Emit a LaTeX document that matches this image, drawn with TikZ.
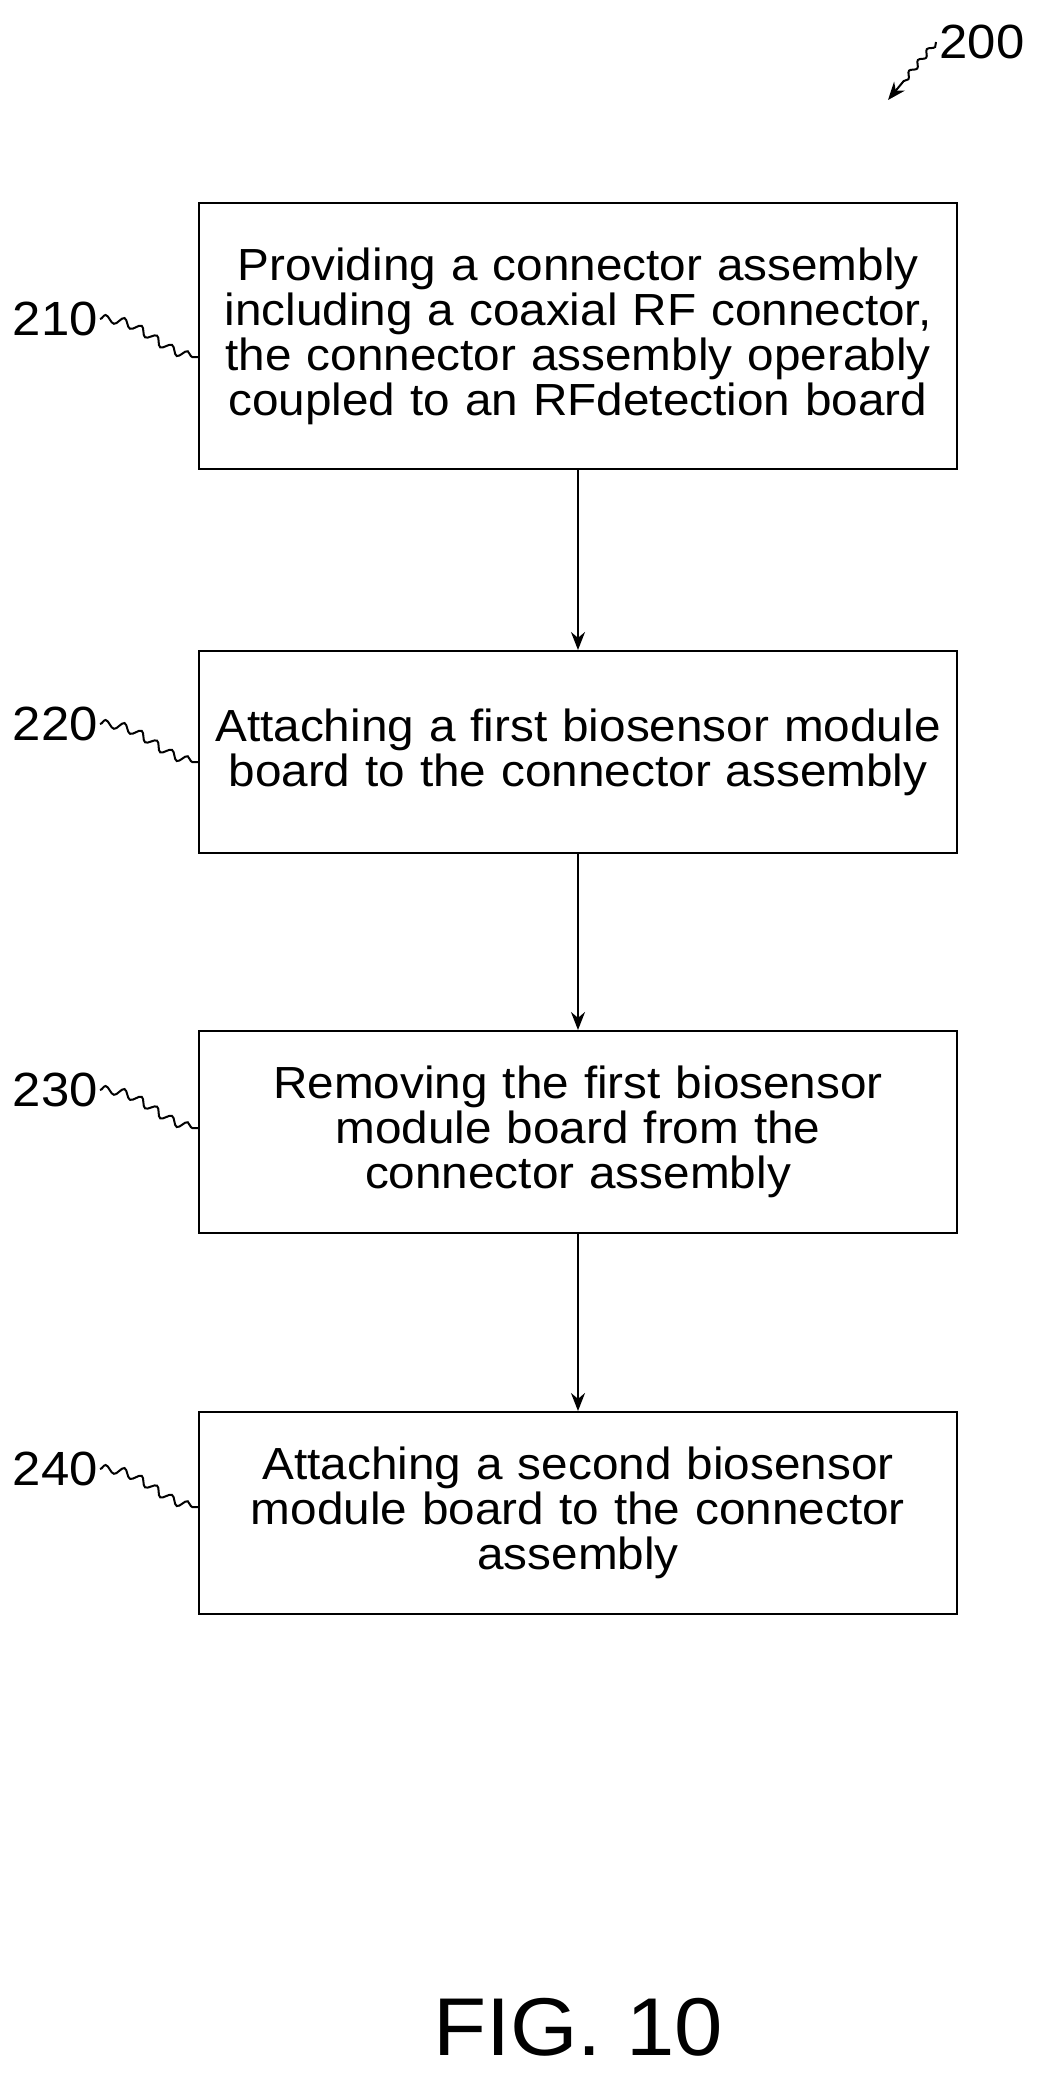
\documentclass[tikz,border=0pt]{standalone}
\usepackage{fontspec}
\setmainfont{Liberation Sans}[FakeStretch=1.06]
\usetikzlibrary{positioning, arrows.meta, decorations.pathmorphing}
\tikzset{
    StepBox/.style={draw, line width=2pt, minimum width=758pt, minimum height=202pt, text width=746pt, align=center, inner sep=6pt, font=\fontsize{45}{45}\selectfont},
    RefText/.style={font=\fontsize{48}{50}\selectfont},
    FlowArrow/.style={-{Stealth[length=18pt, width=14pt]}, line width=2pt},
    Squiggle/.style={line width=2pt, decorate, decoration={snake, amplitude=4pt, segment length=18pt}}
}
\begin{document}
\begin{tikzpicture}[x=1pt, y=-1pt]
    \useasboundingbox (0,0) rectangle (1050,2082);

    \node[StepBox, minimum height=266pt] (s210) at (578,336) {Providing a connector assembly\\including a coaxial RF connector,\\the connector assembly operably\\coupled to an RFdetection board};
    \node[StepBox, below=180pt of s210] (s220) {Attaching a first biosensor module\\board to the connector assembly};
    \node[StepBox, below=176pt of s220] (s230) {Removing the first biosensor\\module board from the\\connector assembly};
    \node[StepBox, below=177pt of s230] (s240) {Attaching a second biosensor\\module board to the connector\\assembly};

    \draw[FlowArrow] (s210) -- (s220);
    \draw[FlowArrow] (s220) -- (s230);
    \draw[FlowArrow] (s230) -- (s240);

    % reference numerals
    \foreach \step/\yy in {210/319, 220/724, 230/1090, 240/1469} {
        \node[RefText, anchor=east, inner sep=2pt] (n\step) at (100,\yy) {\step};
        \draw[Squiggle] (n\step.east) to[out=0, in=180] (s\step.west |- 0,\yy+38);
    }

    \node[RefText, anchor=west] (n200) at (936,42) {200};
    \coordinate (p200) at (888,100);
    \draw[FlowArrow, decorate, decoration={snake, amplitude=2.5pt, segment length=14pt, post length=20pt}] (n200.west) -- (p200);

    \node[font=\fontsize{82}{90}\selectfont] (fig) at (578,2027) {FIG. 10};
\end{tikzpicture}
\end{document}
